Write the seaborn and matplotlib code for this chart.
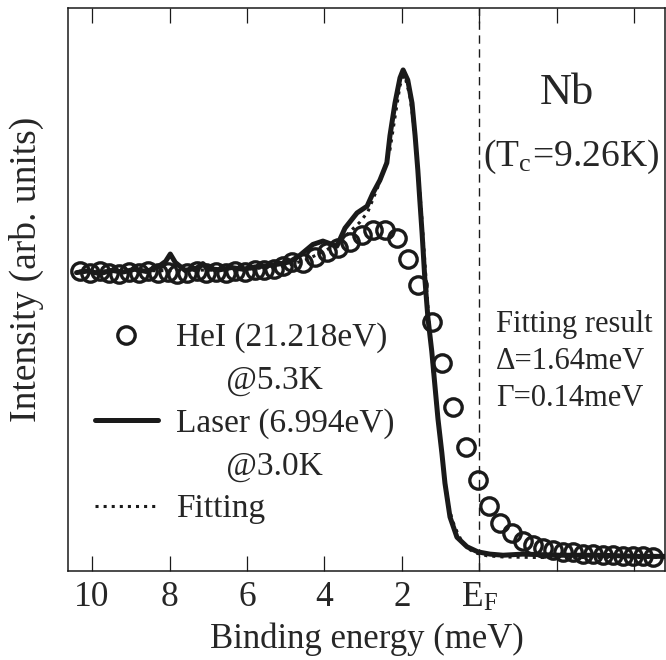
import numpy as np
import pandas as pd
import matplotlib
matplotlib.use("Agg")
import matplotlib.pyplot as plt
from matplotlib.lines import Line2D
import seaborn as sns

# HeI (21.218eV) @5.3K  -- open circles
he_E = [10.30, 10.05, 9.80, 9.55, 9.30, 9.05, 8.80, 8.55, 8.30, 8.05, 7.80, 7.55, 7.30,
        7.05, 6.80, 6.55, 6.30, 6.05, 5.80, 5.55, 5.30, 5.07, 4.85, 4.55, 4.25, 3.94,
        3.64, 3.34, 3.04, 2.74, 2.44, 2.14, 1.84, 1.58, 1.23, 0.975, 0.676, 0.35, 0.03,
        -0.25, -0.53, -0.83, -1.13, -1.39, -1.65, -1.90, -2.16, -2.42, -2.68, -2.94,
        -3.19, -3.45, -3.71, -3.97, -4.23, -4.49]
he_I = [0.532, 0.529, 0.533, 0.530, 0.528, 0.531, 0.529, 0.533, 0.530, 0.531, 0.528,
        0.530, 0.532, 0.529, 0.531, 0.530, 0.533, 0.531, 0.534, 0.535, 0.537, 0.541,
        0.549, 0.547, 0.558, 0.567, 0.573, 0.585, 0.597, 0.606, 0.606, 0.591, 0.555,
        0.508, 0.443, 0.369, 0.292, 0.220, 0.162, 0.115, 0.085, 0.067, 0.054, 0.046,
        0.040, 0.037, 0.034, 0.033, 0.031, 0.030, 0.028, 0.028, 0.027, 0.027, 0.027,
        0.025]

# Laser (6.994eV) @3.0K  -- solid line
laser_E = [10.4, 10.1, 9.8, 9.5, 9.2, 8.9, 8.6, 8.3, 8.1, 7.98, 7.85, 7.6, 7.3, 7.14,
           7.0, 6.7, 6.4, 6.1, 5.8, 5.5, 5.2, 4.9, 4.63, 4.3, 4.04, 3.8, 3.68, 3.47,
           3.16, 2.9, 2.75, 2.57, 2.39, 2.31, 2.18, 2.05, 1.97, 1.85, 1.74, 1.66, 1.59,
           1.54, 1.48, 1.41, 1.33, 1.23, 1.15, 1.07, 0.97, 0.89, 0.76, 0.58, 0.32, 0.04,
           -0.27, -0.61, -1.12, -2.08, -3.1, -4.1, -4.8]
laser_I = [0.530, 0.533, 0.528, 0.534, 0.531, 0.536, 0.532, 0.540, 0.550, 0.563, 0.548,
           0.534, 0.538, 0.546, 0.537, 0.535, 0.539, 0.536, 0.540, 0.542, 0.545, 0.549,
           0.561, 0.580, 0.586, 0.580, 0.577, 0.609, 0.636, 0.648, 0.671, 0.694, 0.725,
           0.773, 0.831, 0.876, 0.890, 0.872, 0.831, 0.773, 0.712, 0.660, 0.600, 0.520,
           0.450, 0.390, 0.330, 0.270, 0.210, 0.156, 0.096, 0.060, 0.043, 0.034, 0.030,
           0.028, 0.030, 0.028, 0.028, 0.026, 0.026]

# Fitting -- dotted line
fit_E = [10.4, 9.0, 7.5, 6.0, 5.0, 4.5, 4.0, 3.6, 3.34, 3.08, 2.88, 2.65, 2.49, 2.31,
         2.18, 2.05, 1.97, 1.90, 1.80, 1.72, 1.62, 1.50, 1.40, 1.30, 1.20, 1.10, 1.00,
         0.90, 0.80, 0.70, 0.58, 0.45, 0.30, 0.10, -0.2, -0.6, -1.5, -3.0, -4.8]
fit_I = [0.533, 0.533, 0.534, 0.536, 0.542, 0.552, 0.568, 0.585, 0.603, 0.620, 0.638,
         0.677, 0.707, 0.748, 0.806, 0.862, 0.880, 0.872, 0.845, 0.806, 0.740, 0.640,
         0.540, 0.440, 0.360, 0.290, 0.225, 0.165, 0.118, 0.090, 0.070, 0.052, 0.040,
         0.032, 0.027, 0.025, 0.024, 0.024, 0.024]

tick_pos = [10, 8, 6, 4, 2, 0, -2, -4]
tick_lab = ['10', '8', '6', '4', '2', r'E$_\mathregular{F}$', '', '']

sns.set_theme(style="ticks")
plt.rcParams['font.family'] = ['Liberation Serif', 'DejaVu Serif']
plt.rcParams['mathtext.fontset'] = 'stix'

he = pd.DataFrame({'E': he_E, 'I': he_I})
laser = pd.DataFrame({'E': laser_E, 'I': laser_I})
fit = pd.DataFrame({'E': fit_E, 'I': fit_I})

fig = plt.figure(figsize=(6.66, 6.6), dpi=100)
ax = fig.add_axes([68 / 666, 89 / 660, 597 / 666, 563 / 660])

ax.axvline(0, color='k', lw=1, ls=(0, (6, 4)))
sns.lineplot(data=laser, x='E', y='I', ax=ax, color='k', lw=3.6, zorder=2)
h_laser = ax.lines[-1]
sns.lineplot(data=fit, x='E', y='I', ax=ax, color='k', lw=2.2, ls=':', zorder=2)
h_fit = ax.lines[-1]
sns.lineplot(data=he, x='E', y='I', ax=ax, color='k', ls='', marker='o',
             ms=12.5, mfc='none', mec='k', mew=2.4, zorder=3)
h_he = ax.lines[-1]

ax.set_xlim(10.62, -4.79)
ax.set_ylim(0, 1)
ax.set_xticks(tick_pos)
ax.set_xticklabels(tick_lab)
ax.set_yticks([])
ax.tick_params(axis='x', direction='in', top=True, length=11, width=0.9,
               labelsize=25.5, pad=7, color='k')
for s in ax.spines.values():
    s.set_linewidth(1.1)
    s.set_color('k')

ax.set_xlabel('Binding energy (meV)', fontsize=25, labelpad=6)
ax.set_ylabel('Intensity (arb. units)', fontsize=27)
ax.yaxis.set_label_coords(-0.040, 0.535)

blank = Line2D([], [], ls='', marker='')
leg = ax.legend([h_he, blank, h_laser, blank, h_fit],
                ['HeI (21.218eV)', '      @5.3K', 'Laser (6.994eV)', '      @3.0K', 'Fitting'],
                loc='center left', bbox_to_anchor=(10 / 597, 0.262), frameon=False,
                fontsize=24, borderpad=0, handlelength=1.9, handletextpad=0.55,
                labelspacing=0.36)

ax.text(0.836, 0.849, 'Nb', transform=ax.transAxes, fontsize=32,
        ha='center', va='center')
ax.text(0.842, 0.735, r'(T$_\mathregular{c}$=9.26K)', transform=ax.transAxes,
        fontsize=27, ha='center', va='center')
ax.text(0.717, 0.372, 'Fitting result\nΔ=1.64meV\nΓ=0.14meV',
        transform=ax.transAxes, fontsize=22, ha='left', va='center', linespacing=1.35)

fig.savefig('out.png', dpi=100)
